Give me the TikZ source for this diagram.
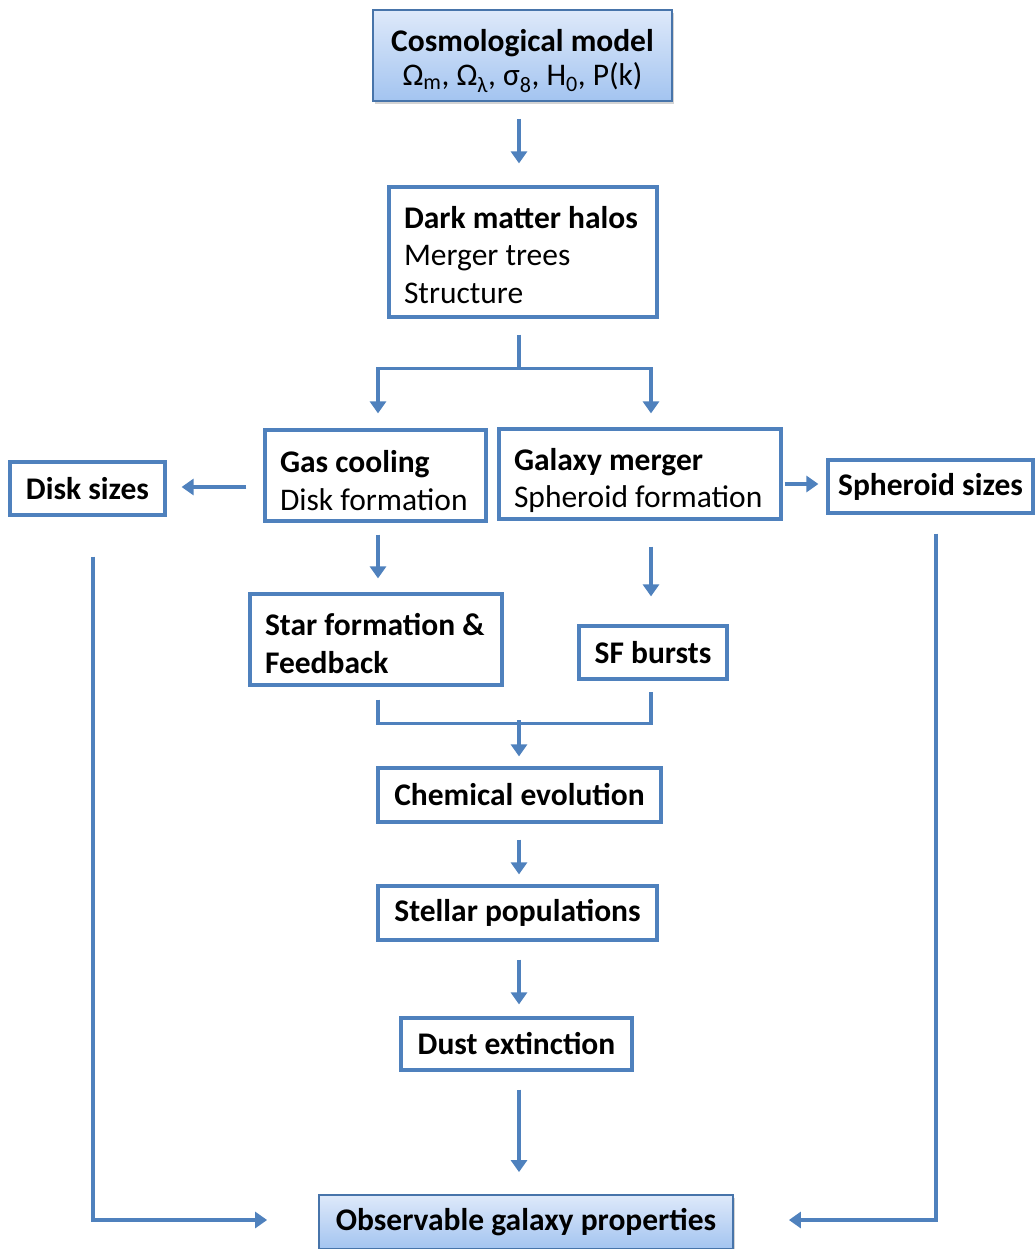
\documentclass[tikz,border=0pt]{standalone}
\usepackage{fontspec}
\setmainfont{Carlito}
\usetikzlibrary{calc,arrows.meta,shadows}
\definecolor{lineblue}{RGB}{79,129,189}
\definecolor{gtop}{RGB}{222,233,250}
\definecolor{gbot}{RGB}{163,196,240}
\newcommand\fsz{\fontsize{31.5}{37.5}\selectfont}
\newcommand\nsp{\spaceskip=0pt\xspaceskip=0pt\hyphenpenalty=10000\relax}
\tikzset{
  box/.style={draw=lineblue, line width=3.2pt, fill=white, inner xsep=15pt, inner ysep=0pt, font=\fsz, text=black},
  lbox/.style={box, align=left},
  cbox/.style={box, align=center},
  gbox/.style={cbox, line width=1.8pt, draw=lineblue!90!black, top color=gtop, bottom color=gbot,
    drop shadow={shadow xshift=2pt, shadow yshift=-3pt, opacity=0.35}},
  ln/.style={draw=lineblue, line width=3.5pt},
  arr/.style={ln, -{Triangle[width=16pt,length=12pt]}},
}
\begin{document}
\begin{tikzpicture}[x=1pt,y=-1pt]
\useasboundingbox (0,0) rectangle (1035,1249);
% nodes
\node[gbox, minimum width=299pt, minimum height=91pt, inner xsep=4pt] (cosmo) at (522.5,55.5)
  {\rule{0pt}{33pt}\textbf{Cosmological model}\\[-3pt]Ω\textsubscript{m}, Ω\textsubscript{λ}, σ\textsubscript{8}, H\textsubscript{0}, P(k)};
\node[lbox, text width=238pt, minimum height=130pt] (dm) at (523,252)
  {\nsp\rule{0pt}{28pt}\textbf{Dark matter halos}\\Merger trees\\Structure};
\node[lbox, text width=191pt, minimum height=91pt] (gas) at (375.5,475.5)
  {\nsp\rule{0pt}{32pt}\textbf{Gas cooling}\\Disk formation};
\node[lbox, text width=252pt, minimum height=90pt] (merger) at (640,474)
  {\nsp\rule{0pt}{35pt}\textbf{Galaxy merger}\\Spheroid formation};
\node[cbox, minimum width=155pt, minimum height=53pt, inner xsep=4pt] (disk) at (87.5,488.5)
  {\textbf{Disk sizes}};
\node[cbox, minimum width=205pt, minimum height=53pt, inner xsep=4pt] (spher) at (930.5,486.5)
  {\textbf{Spheroid sizes}};
\node[lbox, text width=222pt, minimum height=91pt] (star) at (376,639.5)
  {\nsp\rule{0pt}{30pt}\textbf{Star formation \&}\\\textbf{Feedback}};
\node[cbox, minimum width=148pt, minimum height=53pt, inner xsep=4pt] (sfb) at (653,652.5)
  {\textbf{SF bursts}};
\node[cbox, minimum width=283pt, minimum height=54pt, inner xsep=4pt] (chem) at (519.5,795)
  {\textbf{Chemical evolution}};
\node[cbox, minimum width=279pt, minimum height=54pt, inner xsep=4pt] (stel) at (517.5,913)
  {\textbf{Stellar populations}};
\node[cbox, minimum width=231pt, minimum height=52pt, inner xsep=4pt] (dust) at (516.5,1044)
  {\textbf{Dust extinction}};
\node[gbox, minimum width=414pt, minimum height=54pt] (obs) at (526,1222)
  {\textbf{Observable galaxy properties}};
% connectors
\draw[arr] ($(cosmo.south)+(-3.5,17)$) -- ($(dm.north)+(-4,-22)$);
\coordinate (split) at ($(dm.south)+(-4,50)$);
\draw[ln] ($(dm.south)+(-4,16)$) -- (split);
\draw[arr] (split) -| ($(gas.north)+(2.5,-15)$);
\draw[arr] (split) -| ($(merger.north)+(11,-14)$);
\draw[arr] ($(gas.west)+(-17,11.5)$) -- ($(disk.east)+(15,-1.5)$);
\draw[arr] ($(merger.east)+(2,10)$) -- ($(spher.west)+(-8,-2.5)$);
\draw[arr] ($(gas.south)+(2.5,12)$) -- ($(star.north)+(2,-14)$);
\draw[arr] ($(merger.south)+(11,26)$) -- ($(sfb.north)+(-2,-28)$);
\coordinate (join) at ($(chem.north)+(-0.5,-46)$);
\draw[ln] ($(star.south)+(2,13)$) |- ($(sfb.south)+(-2,43)$) -- ($(sfb.south)+(-2,11)$);
\draw[arr] (join) -- ($(chem.north)+(-0.5,-10)$);
\draw[arr] ($(chem.south)+(-0.5,16)$) -- ($(stel.north)+(1.5,-10)$);
\draw[arr] ($(stel.south)+(1.5,18)$) -- ($(dust.north)+(2.5,-12)$);
\draw[arr] ($(dust.south)+(2.5,18)$) -- ($(obs.north)+(-7,-22)$);
\draw[arr] ($(disk.south)+(5.5,40)$) |- ($(obs.west)+(-51,-2)$);
\draw[arr] ($(spher.south)+(5.5,19)$) |- ($(obs.east)+(55,-2)$);
\end{tikzpicture}
\end{document}
